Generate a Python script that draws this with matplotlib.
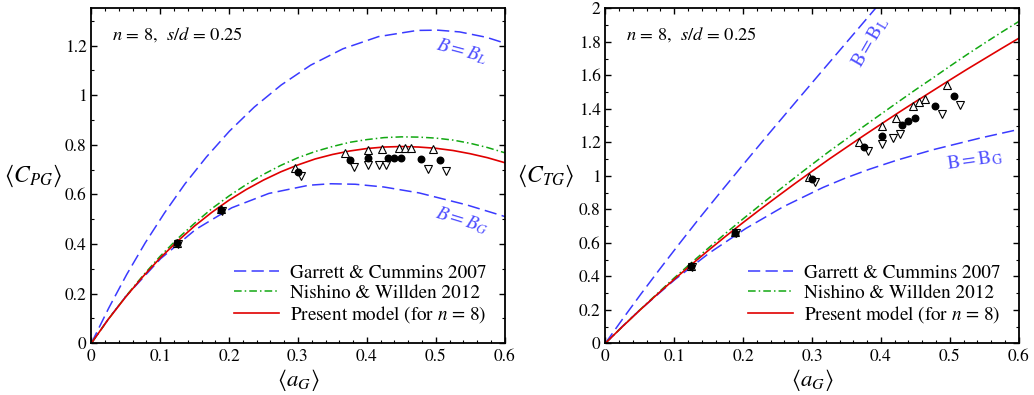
import matplotlib
matplotlib.use('Agg')
import matplotlib.pyplot as plt
from matplotlib.ticker import MultipleLocator

plt.rcParams['font.family'] = 'STIXGeneral'
plt.rcParams['mathtext.fontset'] = 'stix'
plt.rcParams['font.size'] = 12

# Garrett & Cummins 2007, B = B_L (upper curve)
a_BL = [0, 0.0253, 0.0513, 0.0783, 0.1064, 0.1358, 0.1671, 0.2005, 0.2365, 0.2756,
        0.3184, 0.3653, 0.4168, 0.4731, 0.5032, 0.5345, 0.5738, 0.6010]
cp_BL = [0, 0.142, 0.277, 0.405, 0.526, 0.642, 0.751, 0.855, 0.952, 1.041,
         1.121, 1.187, 1.236, 1.261, 1.262, 1.255, 1.233, 1.209]
ct_BL = [0, 0.146, 0.292, 0.439, 0.589, 0.743, 0.902, 1.069, 1.247, 1.437,
         1.644, 1.870, 2.119, 2.394, 2.541, 2.696, 2.892, 3.029]

# Garrett & Cummins 2007, B = B_G (lower curve)
a_BG = [0, 0.0250, 0.0501, 0.1006, 0.1516, 0.2037, 0.2577, 0.3157, 0.3476, 0.3831,
        0.4245, 0.4759, 0.5446, 0.5990, 0.6201]
cp_BG = [0, 0.099, 0.189, 0.341, 0.459, 0.546, 0.604, 0.637, 0.643, 0.641,
         0.630, 0.606, 0.558, 0.512, 0.491]
ct_BG = [0, 0.102, 0.199, 0.379, 0.541, 0.685, 0.814, 0.930, 0.985, 1.039,
         1.095, 1.156, 1.226, 1.276, 1.294]

# Nishino & Willden 2012 and present model
a_mod = [0, 0.025, 0.05, 0.075, 0.1, 0.125, 0.15, 0.175, 0.2, 0.225, 0.25, 0.275, 0.3,
         0.325, 0.35, 0.375, 0.4, 0.425, 0.45, 0.475, 0.5, 0.525, 0.55, 0.575, 0.6]
cp_nw = [0, 0.098, 0.189, 0.273, 0.351, 0.421, 0.484, 0.543, 0.594, 0.640, 0.681, 0.717, 0.748,
         0.773, 0.793, 0.810, 0.821, 0.829, 0.832, 0.831, 0.827, 0.819, 0.806, 0.789, 0.768]
ct_nw = [0, 0.100, 0.199, 0.295, 0.390, 0.481, 0.570, 0.658, 0.743, 0.826, 0.908, 0.989, 1.068,
         1.146, 1.220, 1.295, 1.368, 1.441, 1.513, 1.583, 1.654, 1.724, 1.791, 1.857, 1.921]
cp_pm = [0, 0.098, 0.187, 0.269, 0.344, 0.411, 0.473, 0.528, 0.577, 0.620, 0.658, 0.691, 0.719,
         0.743, 0.761, 0.775, 0.785, 0.791, 0.793, 0.791, 0.786, 0.777, 0.764, 0.748, 0.728]
ct_pm = [0, 0.100, 0.197, 0.291, 0.382, 0.470, 0.556, 0.640, 0.721, 0.800, 0.877, 0.953, 1.027,
         1.100, 1.170, 1.240, 1.308, 1.376, 1.442, 1.507, 1.572, 1.636, 1.698, 1.760, 1.821]

# experiments
a_up = [0.124, 0.188, 0.295, 0.368, 0.402, 0.422, 0.446, 0.456, 0.464, 0.496]
cp_up = [0.406, 0.541, 0.707, 0.765, 0.781, 0.785, 0.788, 0.788, 0.788, 0.785]
ct_up = [0.462, 0.664, 0.995, 1.204, 1.300, 1.347, 1.419, 1.443, 1.459, 1.542]

a_ci = [0.125, 0.188, 0.300, 0.376, 0.402, 0.431, 0.440, 0.449, 0.479, 0.506]
cp_ci = [0.404, 0.538, 0.690, 0.738, 0.745, 0.747, 0.747, 0.747, 0.743, 0.737]
ct_ci = [0.460, 0.661, 0.981, 1.174, 1.238, 1.303, 1.327, 1.343, 1.417, 1.479]

a_dn = [0.126, 0.189, 0.305, 0.382, 0.402, 0.417, 0.428, 0.488, 0.515]
cp_dn = [0.402, 0.535, 0.676, 0.711, 0.718, 0.718, 0.718, 0.704, 0.694]
ct_dn = [0.457, 0.658, 0.965, 1.148, 1.188, 1.224, 1.248, 1.367, 1.423]

xticks = [0, 0.1, 0.2, 0.3, 0.4, 0.5, 0.6]
xlabels = ['0', '0.1', '0.2', '0.3', '0.4', '0.5', '0.6']
yticksL = [0, 0.2, 0.4, 0.6, 0.8, 1.0, 1.2]
ylabelsL = ['0', '0.2', '0.4', '0.6', '0.8', '1', '1.2']
yticksR = [0, 0.2, 0.4, 0.6, 0.8, 1.0, 1.2, 1.4, 1.6, 1.8, 2.0]
ylabelsR = ['0', '0.2', '0.4', '0.6', '0.8', '1', '1.2', '1.4', '1.6', '1.8', '2']

blue = '#3a3aff'
green = '#12a812'
red = '#e00000'

fig = plt.figure(figsize=(10.34, 3.95), dpi=100)
axL = fig.add_axes([0.0883, 0.1309, 0.3998, 0.848])
axR = fig.add_axes([0.5854, 0.1309, 0.3998, 0.848])


def draw(ax, cBL, cBG, cnw, cpm, cup, cci, cdn):
    ax.plot(a_BL, cBL, color=blue, lw=1.1, dashes=(8, 3.5), label='Garrett & Cummins 2007')
    ax.plot(a_BG, cBG, color=blue, lw=1.1, dashes=(8, 3.5))
    ax.plot(a_mod, cnw, color=green, lw=1.1, dashes=(5, 2, 1, 2), label='Nishino & Willden 2012')
    ax.plot(a_mod, cpm, color=red, lw=1.2, label=r'Present model (for $n$ = 8)')
    ax.plot(a_dn, cdn, 'v', ls='none', mfc='white', mec='black', ms=6, mew=0.8, zorder=5)
    ax.plot(a_up, cup, '^', ls='none', mfc='white', mec='black', ms=6, mew=0.8, zorder=5)
    ax.plot(a_ci, cci, 'o', ls='none', color='black', ms=4.7, zorder=6)
    ax.set_xlim(0, 0.6)
    ax.set_xticks(xticks, xlabels)
    ax.xaxis.set_minor_locator(MultipleLocator(0.02))
    ax.yaxis.set_minor_locator(MultipleLocator(0.1))
    ax.tick_params(which='both', direction='in', top=True, right=True, labelsize=12.5)
    ax.tick_params(which='major', length=4.5, width=1.0)
    ax.tick_params(which='minor', length=2.3, width=0.8)
    ax.tick_params(axis='x', pad=4)
    for s in ax.spines.values():
        s.set_linewidth(1.3)
    ax.text(0.049, 0.907, r'$n$ = 8,  $s/d$ = 0.25', transform=ax.transAxes, fontsize=13.3)
    ax.text(0.5, -0.072, r'$\langle a_G \rangle$', transform=ax.transAxes, fontsize=16.5,
            ha='center', va='top')
    ax.legend(loc='lower right', frameon=False, fontsize=13.8, handlelength=2.35,
              handletextpad=0.57, labelspacing=0.12, borderaxespad=0.55)


draw(axL, cp_BL, cp_BG, cp_nw, cp_pm, cp_up, cp_ci, cp_dn)
axL.set_ylim(0, 1.35)
axL.set_yticks(yticksL, ylabelsL)
axL.text(-0.14, 0.5, r'$\langle C_{PG} \rangle$', transform=axL.transAxes, fontsize=17,
         ha='center', va='center')
axL.text(0.538, 1.175, r'$B = B_L$', color='#4f4fff', fontsize=14, rotation=-15,
         ha='center', va='center')
axL.text(0.538, 0.495, r'$B = B_G$', color='#4f4fff', fontsize=14, rotation=-17,
         ha='center', va='center')

draw(axR, ct_BL, ct_BG, ct_nw, ct_pm, ct_up, ct_ci, ct_dn)
axR.set_ylim(0, 2)
axR.set_yticks(yticksR, ylabelsR)
axR.text(-0.145, 0.5, r'$\langle C_{TG} \rangle$', transform=axR.transAxes, fontsize=17,
         ha='center', va='center')
axR.text(0.385, 1.80, r'$\mathrm{B = B_L}$', color='#4f4fff', fontsize=14, rotation=60,
         ha='center', va='center')
axR.text(0.537, 1.094, r'$\mathrm{B = B_G}$', color='#4f4fff', fontsize=14, rotation=8,
         ha='center', va='center')

fig.savefig('out.png', dpi=100)
